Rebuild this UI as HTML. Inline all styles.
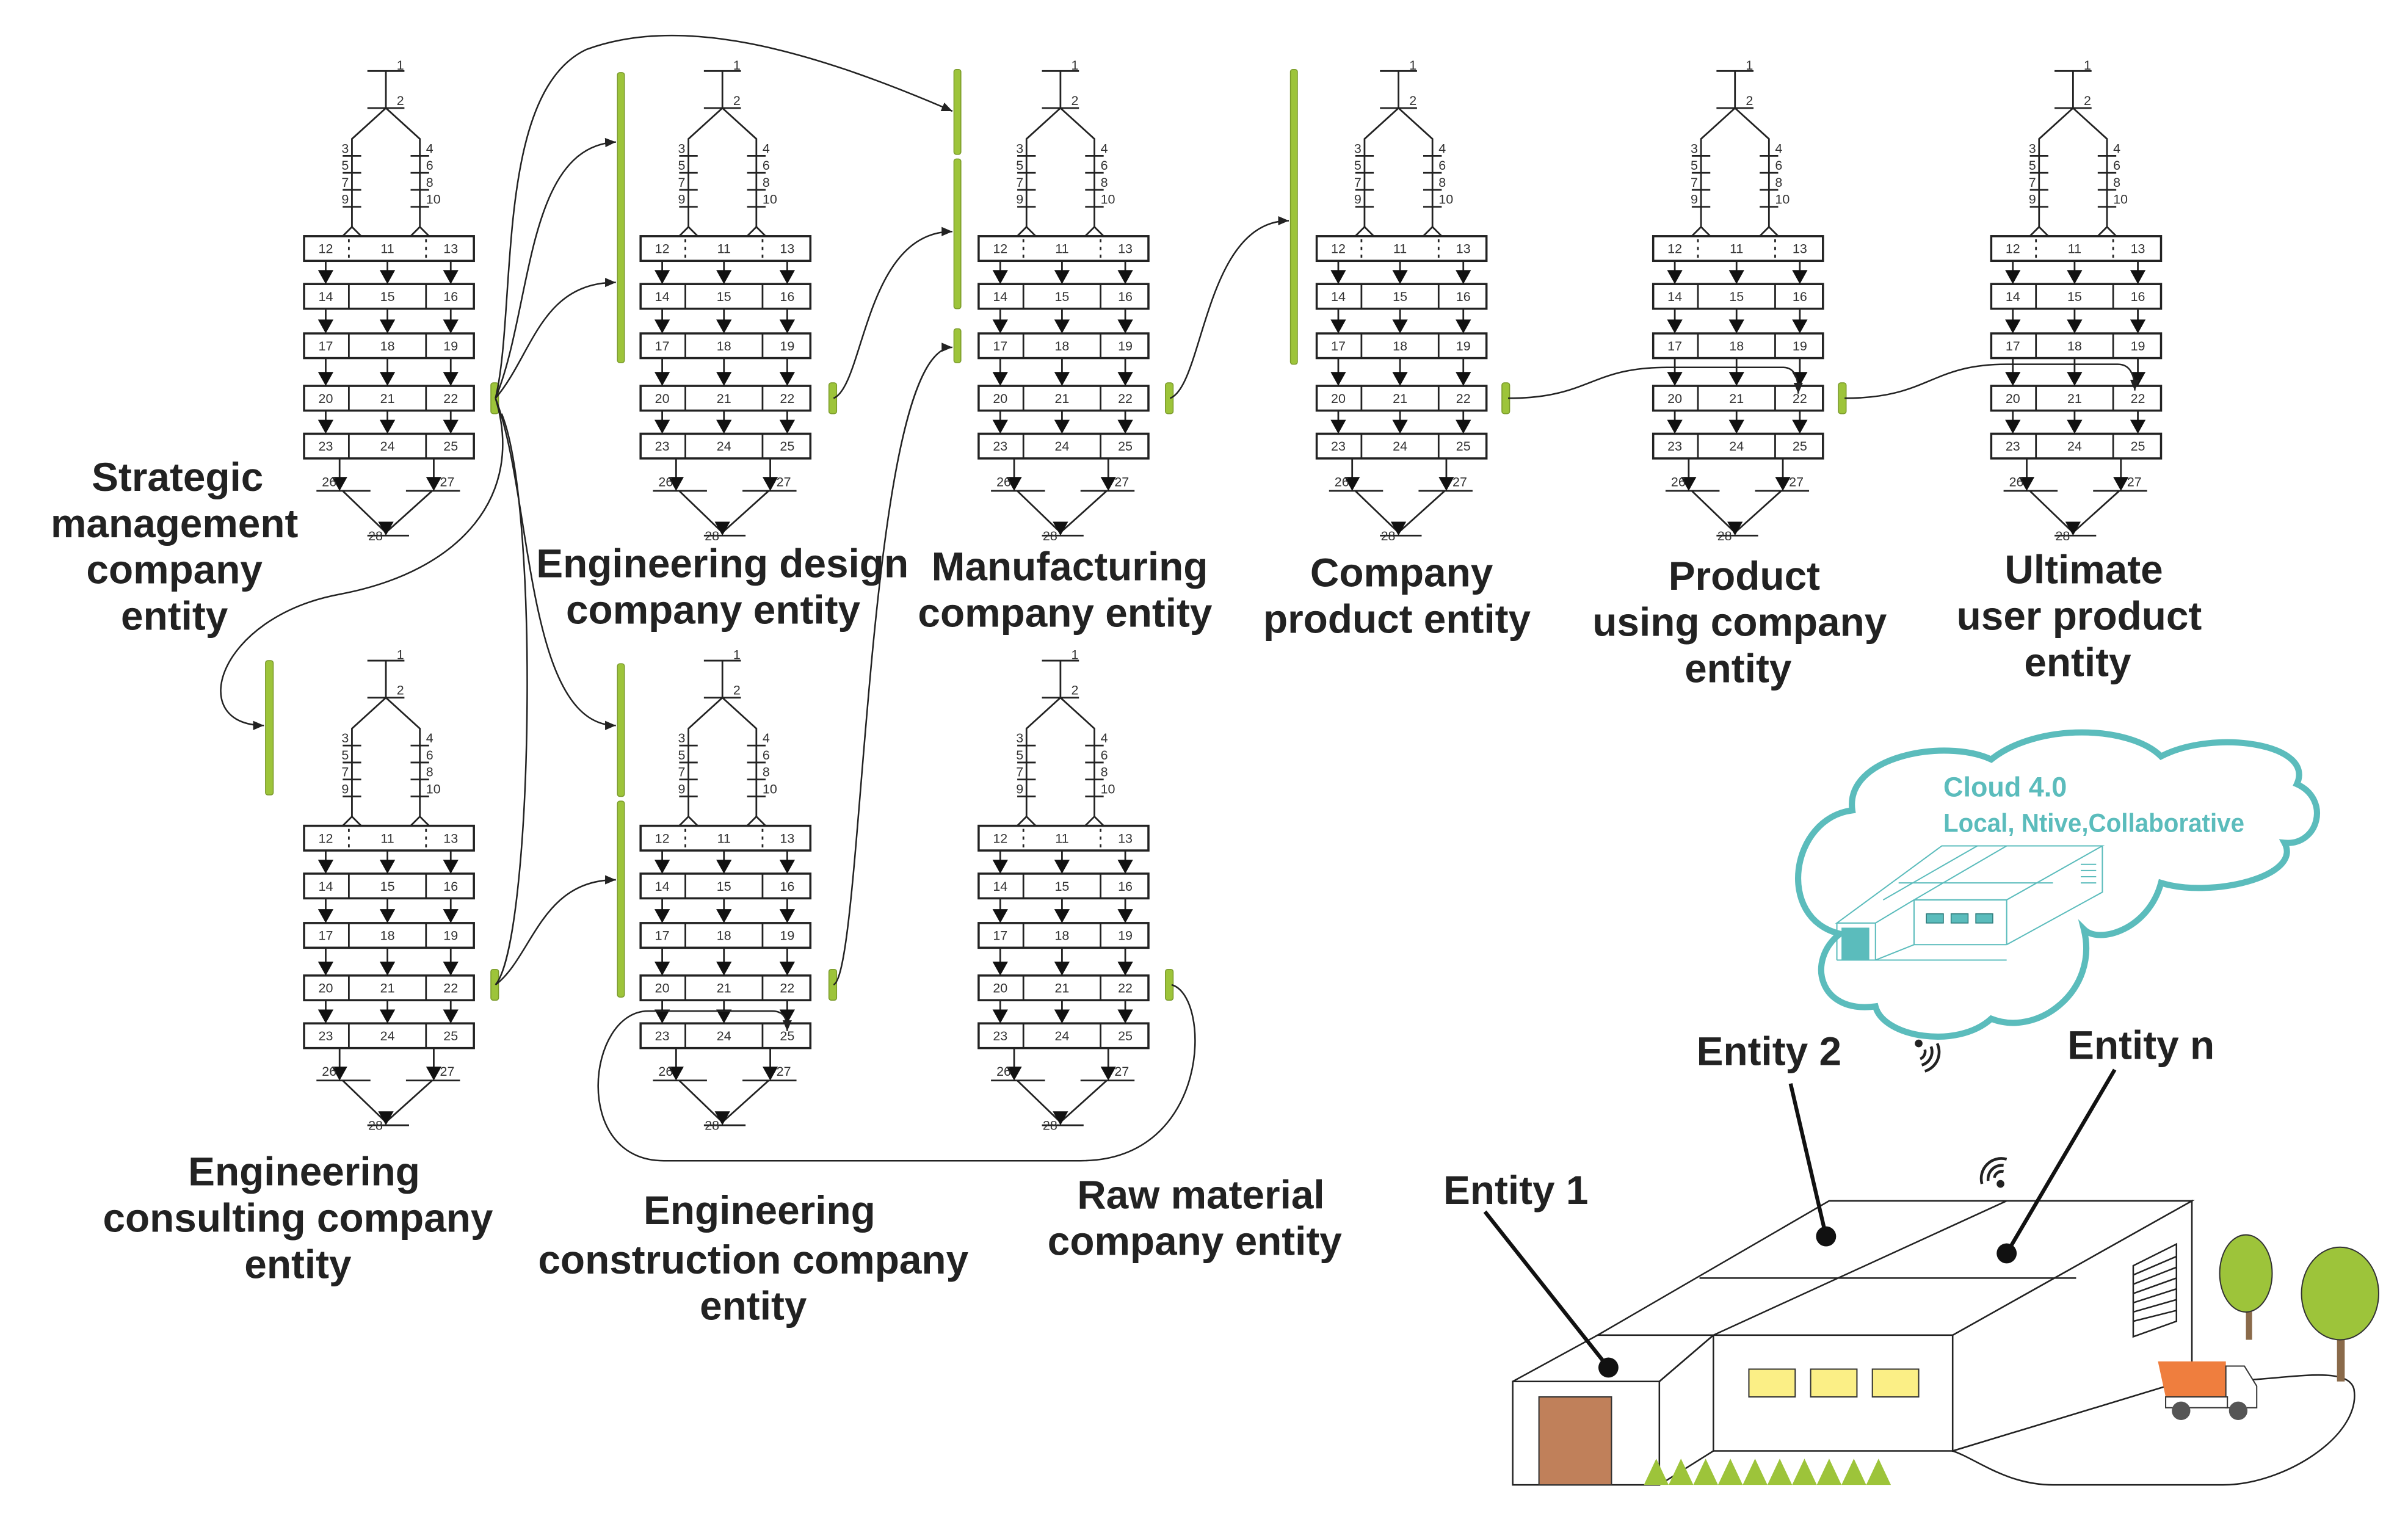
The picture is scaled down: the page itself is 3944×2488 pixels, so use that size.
<!DOCTYPE html>
<html><head><meta charset="utf-8">
<style>
html,body{margin:0;padding:0;background:#fff;}
svg{display:block;}
.lb{font-family:"Liberation Sans",sans-serif;font-weight:bold;font-size:26px;fill:#222;text-anchor:middle;}
.n{font-family:"Liberation Sans",sans-serif;font-size:8.5px;fill:#333;}
.c{text-anchor:middle;}
.e{text-anchor:end;}
</style></head>
<body>
<svg width="3944" height="2488" viewBox="0 0 1560 984.1" xmlns="http://www.w3.org/2000/svg">
<defs>
<marker id="ar" markerWidth="8" markerHeight="8" refX="7" refY="4" orient="auto" markerUnits="userSpaceOnUse">
<path d="M0,1 L7,4 L0,7 Z" fill="#222"/></marker>
<g id="m">
<g stroke="#222" stroke-width="1.1" fill="none">
<path d="M238,46H262 M250,46V70 M238,70H262 M250,70L228,90V147 M250,70L272,90V147"/>
<path d="M222,101H234 M222,112H234 M222,123H234 M222,134H234 M266,101H278 M266,112H278 M266,123H278 M266,134H278"/>
<path d="M222,153L228,147L234,153 M266,153L272,147L278,153"/>
<rect x="197" y="153" width="110" height="16" stroke-width="1.4"/>
<path d="M226,155V167 M276,155V167" stroke-dasharray="2,3"/>
<rect x="197" y="184" width="110" height="16" stroke-width="1.4"/>
<rect x="197" y="216" width="110" height="16" stroke-width="1.4"/>
<rect x="197" y="250" width="110" height="16" stroke-width="1.4"/>
<rect x="197" y="281" width="110" height="16" stroke-width="1.4"/>
<path d="M226,184V200 M276,184V200 M226,216V232 M276,216V232 M226,250V266 M276,250V266 M226,281V297 M276,281V297"/>
<path d="M211,169V176 M251,169V176 M292,169V176 M211,200V208 M251,200V208 M292,200V208 M211,232V242 M251,232V242 M292,232V242 M211,266V273 M251,266V273 M292,266V273"/>
<path d="M220,297V310 M281,297V310 M205,318H240 M263,318H298 M222,318L250,345L280,318 M238,347H265"/>
</g>
<g fill="#111">
<path d="M206,175H216L211,184Z M246,175H256L251,184Z M287,175H297L292,184Z"/>
<path d="M206,207H216L211,216Z M246,207H256L251,216Z M287,207H297L292,216Z"/>
<path d="M206,241H216L211,250Z M246,241H256L251,250Z M287,241H297L292,250Z"/>
<path d="M206,272H216L211,281Z M246,272H256L251,281Z M287,272H297L292,281Z"/>
<path d="M215,309H225L220,318Z M276,309H286L281,318Z M245,338H255L250,347Z"/>
</g>
<text class="n" x="257" y="45">1</text><text class="n" x="257" y="68">2</text>
<text class="n e" x="226" y="99">3</text><text class="n e" x="226" y="110">5</text><text class="n e" x="226" y="121">7</text><text class="n e" x="226" y="132">9</text>
<text class="n" x="276" y="99">4</text><text class="n" x="276" y="110">6</text><text class="n" x="276" y="121">8</text><text class="n" x="276" y="132">10</text>
<text class="n c" x="211" y="164">12</text><text class="n c" x="251" y="164">11</text><text class="n c" x="292" y="164">13</text>
<text class="n c" x="211" y="195">14</text><text class="n c" x="251" y="195">15</text><text class="n c" x="292" y="195">16</text>
<text class="n c" x="211" y="227">17</text><text class="n c" x="251" y="227">18</text><text class="n c" x="292" y="227">19</text>
<text class="n c" x="211" y="261">20</text><text class="n c" x="251" y="261">21</text><text class="n c" x="292" y="261">22</text>
<text class="n c" x="211" y="292">23</text><text class="n c" x="251" y="292">24</text><text class="n c" x="292" y="292">25</text>
<text class="n e" x="218" y="315">26</text><text class="n" x="285" y="315">27</text><text class="n e" x="248" y="350">28</text>
</g>
</defs>

<use href="#m"/>
<use href="#m" transform="translate(218,0)"/>
<use href="#m" transform="translate(437,0)"/>
<use href="#m" transform="translate(656,0)"/>
<use href="#m" transform="translate(874,0)"/>
<use href="#m" transform="translate(1093,0)"/>
<use href="#m" transform="translate(0,382)"/>
<use href="#m" transform="translate(218,382)"/>
<use href="#m" transform="translate(437,382)"/>

<g fill="#9dc43a" stroke="#7a9a2a" stroke-width="0.6">
<rect x="318" y="248" width="5" height="20" rx="1.5"/>
<rect x="400" y="47" width="4.5" height="188" rx="1.5"/>
<rect x="537" y="248" width="5" height="20" rx="1.5"/>
<rect x="618" y="45" width="4.5" height="55" rx="1.5"/>
<rect x="618" y="103" width="4.5" height="97" rx="1.5"/>
<rect x="618" y="213" width="4.5" height="22" rx="1.5"/>
<rect x="755" y="248" width="5" height="20" rx="1.5"/>
<rect x="836" y="45" width="4.5" height="191" rx="1.5"/>
<rect x="973" y="248" width="5" height="20" rx="1.5"/>
<rect x="1191" y="248" width="5" height="20" rx="1.5"/>
<rect x="172" y="428" width="5" height="87" rx="1.5"/>
<rect x="400" y="430" width="4.5" height="86" rx="1.5"/>
<rect x="400" y="519" width="4.5" height="127" rx="1.5"/>
<rect x="318" y="628" width="5" height="20" rx="1.5"/>
<rect x="537" y="628" width="5" height="20" rx="1.5"/>
<rect x="755" y="628" width="5" height="20" rx="1.5"/>
</g>

<g stroke="#222" stroke-width="1" fill="none" marker-end="url(#ar)">
<path d="M321,258 C335,200 320,60 380,32 C440,10 520,30 617,72"/>
<path d="M321,258 C345,200 340,95 399,92"/>
<path d="M321,258 C345,230 350,183 399,183"/>
<path d="M321,258 C345,320 340,470 399,470"/>
<path d="M321,258 C340,320 300,370 220,385 C140,400 120,470 171,470"/>
<path d="M321,638 C345,610 350,330 325,268" marker-end="none"/>
<path d="M321,638 C345,620 350,570 399,570"/>
<path d="M540,258 C560,250 560,150 617,150"/>
<path d="M540,638 C560,630 560,225 617,225"/>
<path d="M758,258 C780,250 780,143 835,143"/>
<path d="M977,258 C1030,258 1030,238 1080,238 L1155,238 C1163,238 1165,245 1165,255"/>
<path d="M1195,258 C1250,258 1250,236 1300,236 L1372,236 C1380,236 1383,243 1383,253"/>
<path d="M759,638 C785,645 785,752 700,752 L430,752 C370,752 380,655 420,655 L500,655 C508,655 510,660 510,668"/>
</g>

<g class="lb">
<text x="115" y="318">Strategic</text><text x="113" y="348">management</text><text x="113" y="378">company</text><text x="113" y="408">entity</text>
<text x="468" y="374">Engineering design</text><text x="462" y="404">company entity</text>
<text x="693" y="376">Manufacturing</text><text x="690" y="406">company entity</text>
<text x="908" y="380">Company</text><text x="905" y="410">product entity</text>
<text x="1130" y="382">Product</text><text x="1127" y="412">using company</text><text x="1126" y="442">entity</text>
<text x="1350" y="378">Ultimate</text><text x="1347" y="408">user product</text><text x="1346" y="438">entity</text>
<text x="197" y="768">Engineering</text><text x="193" y="798">consulting company</text><text x="193" y="828">entity</text>
<text x="492" y="793">Engineering</text><text x="488" y="825">construction company</text><text x="488" y="855">entity</text>
<text x="778" y="783">Raw material</text><text x="774" y="813">company entity</text>
<text x="1146" y="690">Entity 2</text><text x="1387" y="686">Entity n</text><text x="982" y="780">Entity 1</text>
</g>

<path d="M1192,605 C1150,595 1160,530 1200,525 C1195,490 1260,478 1290,492 C1320,468 1380,470 1400,490 C1435,472 1500,482 1488,508 C1510,518 1502,548 1480,546 C1492,568 1432,582 1400,572 C1392,602 1360,612 1350,602 C1360,642 1320,672 1290,660 C1268,680 1220,672 1215,652 C1178,657 1170,622 1192,605 Z" fill="#fff" stroke="#5bbcbc" stroke-width="4"/>
<text x="1259" y="516" textLength="80" lengthAdjust="spacingAndGlyphs" style="font-family:'Liberation Sans Narrow','Liberation Sans',sans-serif;font-weight:bold;font-size:18px;fill:#5bbcbc;">Cloud 4.0</text>
<text x="1259" y="539" textLength="195" lengthAdjust="spacingAndGlyphs" style="font-family:'Liberation Sans Narrow','Liberation Sans',sans-serif;font-weight:bold;font-size:17px;fill:#5bbcbc;">Local, Ntive,Collaborative</text>
<g stroke="#5bbcbc" stroke-width="0.8" fill="none">
<path d="M1190,598 L1215,598 L1240,583 L1300,583 L1362,548 L1300,548 L1258,548 L1190,598 Z"/>
<path d="M1215,598V622 M1190,598V622 M1190,622H1300 M1240,583V612 M1300,583V612 M1240,612H1300 M1300,612L1362,578V548 M1215,622L1240,612 M1220,583L1281,548 M1240,583L1300,548 M1230,572H1330"/>
<path d="M1348,560H1358 M1348,564H1358 M1348,568H1358 M1348,572H1358"/>
</g>
<rect x="1193" y="601" width="18" height="21" fill="#5bbcbc"/>
<rect x="1248" y="592" width="11" height="6" fill="#5bbcbc" stroke="#2a7a7a" stroke-width="0.6"/>
<rect x="1264" y="592" width="11" height="6" fill="#5bbcbc" stroke="#2a7a7a" stroke-width="0.6"/>
<rect x="1280" y="592" width="11" height="6" fill="#5bbcbc" stroke="#2a7a7a" stroke-width="0.6"/>

<g fill="none" stroke="#222" stroke-width="1.8">
<circle cx="1243" cy="676" r="2.5" fill="#222" stroke="none"/>
<path d="M1247,680 A5,5 0 0 1 1244,686 M1251,678 A9,9 0 0 1 1245,690 M1255,676 A13,13 0 0 1 1247,694"/>
<circle cx="1296" cy="767" r="2.5" fill="#222" stroke="none"/>
<path d="M1292,763 A5,5 0 0 1 1298,759 M1288,765 A9,9 0 0 1 1298,755 M1284,767 A13,13 0 0 1 1300,751"/>
</g>

<g stroke="#222" stroke-width="1" fill="#fff">
<path d="M1420,893 C1460,900 1520,880 1525,900 C1530,930 1480,962 1440,962 L1330,962 C1300,962 1280,945 1265,940 Z"/>
<path d="M1265,865 L1420,778 L1420,893 L1265,940 Z"/>
<path d="M1035,865 L1185,778 L1420,778 L1265,865 Z"/>
<path d="M1110,865 L1265,865 L1265,940 L1110,940 Z"/>
<path d="M980,895 L1035,865 L1110,865 L1075,895 Z"/>
<rect x="980" y="895" width="95" height="67"/>
<path d="M1075,962 L1110,940" fill="none"/>
<path d="M1075,895 L1110,865" fill="none"/>
<path d="M1101,828 L1345,828 M1110,865 L1300,778" fill="none"/>
<path d="M1382,820 L1410,806 L1410,856 L1382,866 Z"/>
<path d="M1382,826L1410,814 M1382,832L1410,821 M1382,838L1410,828 M1382,844L1410,835 M1382,850L1410,842 M1382,856L1410,849" fill="none"/>
</g>
<rect x="997" y="905" width="47" height="57" fill="#c0805a" stroke="#333" stroke-width="0.8"/>
<rect x="1133" y="887" width="30" height="18" fill="#fbef86" stroke="#333" stroke-width="0.8"/>
<rect x="1173" y="887" width="30" height="18" fill="#fbef86" stroke="#333" stroke-width="0.8"/>
<rect x="1213" y="887" width="30" height="18" fill="#fbef86" stroke="#333" stroke-width="0.8"/>
<path d="M1065,962 L1073,945 L1081,962 L1089,945 L1097,962 L1105,945 L1113,962 L1121,945 L1129,962 L1137,945 L1145,962 L1153,945 L1161,962 L1169,945 L1177,962 L1185,945 L1193,962 L1201,945 L1209,962 L1217,945 L1225,962 Z" fill="#9dc43a"/>
<rect x="1455" y="840" width="4" height="28" fill="#8a6a4a"/>
<ellipse cx="1455" cy="825" rx="17" ry="25" fill="#9dc43a" stroke="#333" stroke-width="0.8"/>
<rect x="1514" y="855" width="5" height="40" fill="#8a6a4a"/>
<ellipse cx="1516" cy="838" rx="25" ry="30" fill="#9dc43a" stroke="#333" stroke-width="0.8"/>
<path d="M1398,882 L1442,882 L1442,905 L1403,905 Z" fill="#ef7e3e"/>
<path d="M1442,885 L1454,885 L1462,898 L1462,912 L1442,912 Z" fill="#fff" stroke="#333" stroke-width="0.8"/>
<rect x="1403" y="905" width="40" height="7" fill="#fff" stroke="#333" stroke-width="0.8"/>
<circle cx="1413" cy="914" r="6" fill="#555"/>
<circle cx="1450" cy="914" r="6" fill="#555"/>
<g stroke="#111" stroke-width="2.5">
<path d="M962,785 L1042,886 M1160,702 L1183,801 M1370,693 L1300,812"/>
</g>
<circle cx="1042" cy="886" r="6.5" fill="#111"/>
<circle cx="1183" cy="801" r="6.5" fill="#111"/>
<circle cx="1300" cy="812" r="6.5" fill="#111"/>
</svg>
</body></html>
